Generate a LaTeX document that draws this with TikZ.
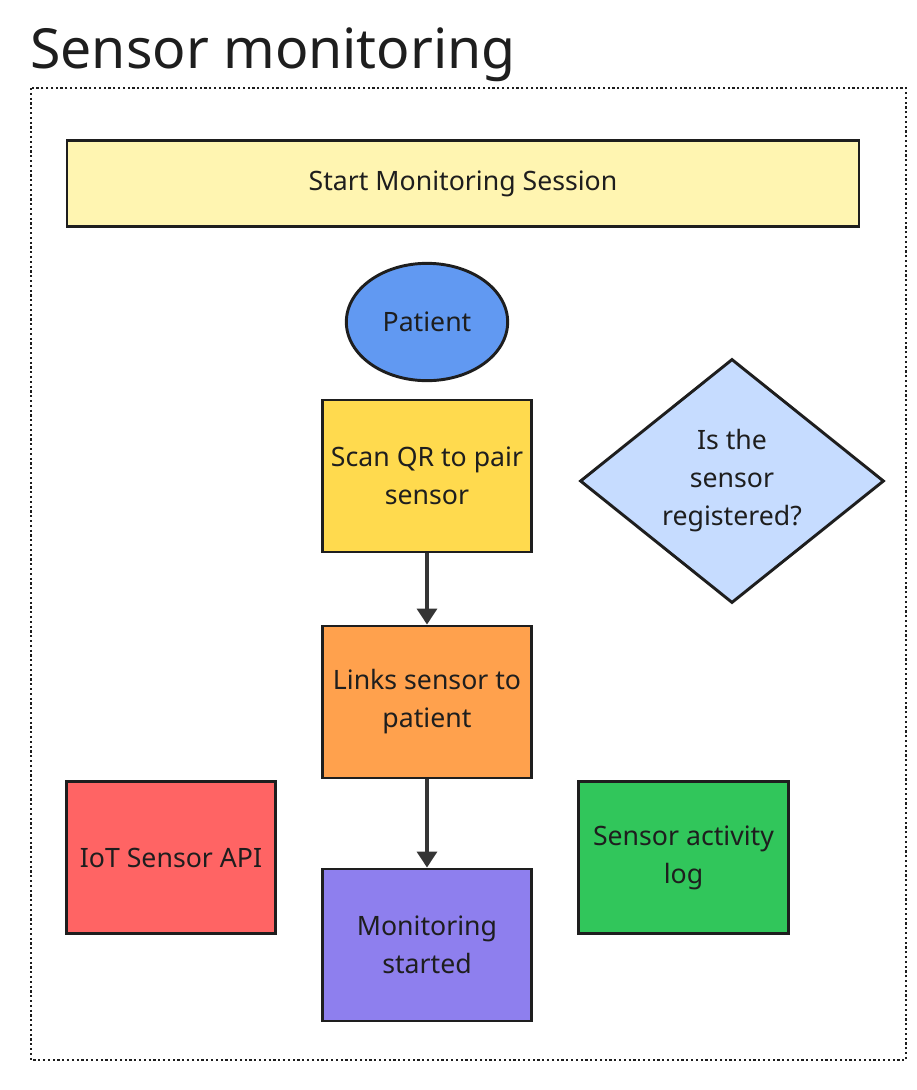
\documentclass[tikz,border=0pt]{standalone}
\usepackage{fontspec}
\setmainfont{Noto Sans}
\usetikzlibrary{shapes.geometric,arrows.meta}

\definecolor{ink}{HTML}{1E1E1E}
\definecolor{startyellow}{HTML}{FFF5B1}
\definecolor{patientblue}{HTML}{6199F2}
\definecolor{scanyellow}{HTML}{FFDA4E}
\definecolor{linkorange}{HTML}{FFA14D}
\definecolor{startedpurple}{HTML}{8E7FEE}
\definecolor{apired}{HTML}{FF6464}
\definecolor{loggreen}{HTML}{31C65B}
\definecolor{questionblue}{HTML}{C6DCFF}

\tikzset{
  box/.style={draw=ink,line width=2.2pt,text=ink,align=center,font=\fontsize{20}{28.5}\selectfont,inner sep=0pt},
  flowarrow/.style={draw=ink!90,line width=2.6pt,-{Triangle[length=12pt,width=15pt]}}
}

\begin{document}
\begin{tikzpicture}[x=0.75pt,y=-0.75pt]
\useasboundingbox (0,0) rectangle (917,1090);
\node[anchor=base west,text=ink,font=\fontsize{41.5}{50}\selectfont,inner sep=0pt] (title) at (30,68) {Sensor monitoring};
\draw[ink,line width=1.6pt,dotted] (31,88) rectangle (906,1060);
\node[box,fill=startyellow,minimum width=594pt,minimum height=65pt] (start) at (463,183.5) {Start Monitoring Session};
\node[box,ellipse,fill=patientblue,minimum width=121pt,minimum height=88pt] (patient) at (427,322) {Patient};
\node[box,fill=scanyellow,minimum width=157pt,minimum height=114pt] (scan) at (427,476) {Scan QR to pair\\sensor};
\node[box,diamond,fill=questionblue,minimum width=228pt,minimum height=183pt] (registered) at (732,481) {Is the\\sensor\\registered?};
\node[box,fill=linkorange,minimum width=157pt,minimum height=114pt] (links) at (427,702) {Links sensor to\\patient};
\node[box,fill=apired,minimum width=157pt,minimum height=114pt] (api) at (171,857.5) {IoT Sensor API};
\node[box,fill=loggreen,minimum width=157pt,minimum height=114pt] (log) at (683.5,857.5) {Sensor activity\\log};
\node[box,fill=startedpurple,minimum width=157pt,minimum height=114pt] (started) at (427,945) {Monitoring\\started};
\draw[flowarrow] (scan) -- (links);
\draw[flowarrow] (links) -- (started);
\end{tikzpicture}
\end{document}
